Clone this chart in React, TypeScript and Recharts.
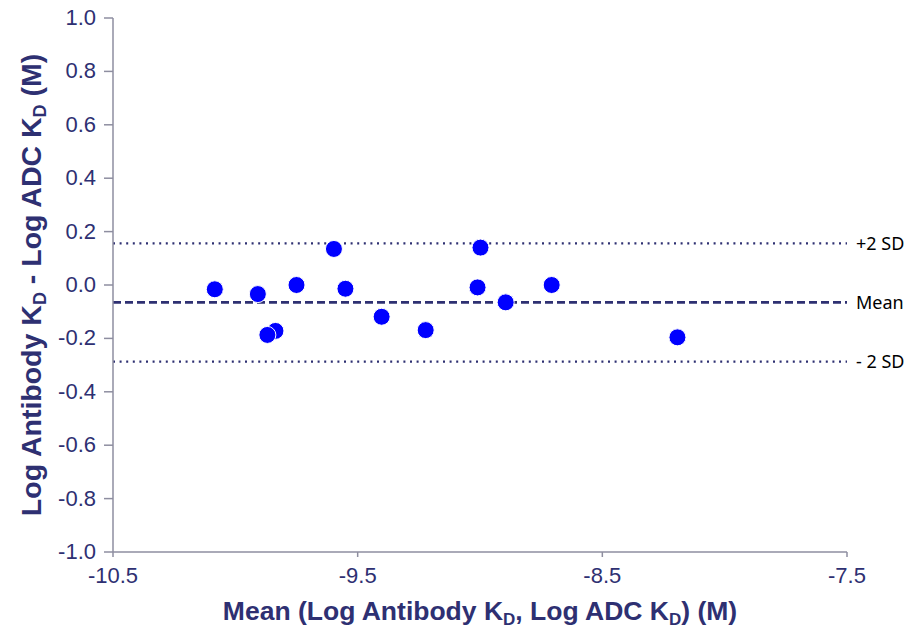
import { ScatterChart, Scatter, XAxis, YAxis, ReferenceLine, Label } from "recharts";

// Bland-Altman: mean of log KD vs difference of log KD
const meanLogKd = [
  -10.084, -9.908, -9.836, -9.869, -9.75, -9.597, -9.55, -9.402, -9.222, -9.01, -8.998, -8.895, -8.707, -8.193,
];
const diffLogKd = [
  -0.016, -0.034, -0.172, -0.187, 0.0, 0.135, -0.014, -0.119, -0.169, -0.009, 0.14, -0.065, 0.0, -0.196,
];
const xTicks = [-10.5, -9.5, -8.5, -7.5];
const yTicks = [-1.0, -0.8, -0.6, -0.4, -0.2, 0.0, 0.2, 0.4, 0.6, 0.8, 1.0];
const meanDiff = -0.065;
const upperSd = 0.156;
const lowerSd = -0.287;

const points = meanLogKd.map((x, i) => ({ x, y: diffLogKd[i] }));

const navy = "#2e3072";
const axisGrey = "#8e8ea0";
const tickFamily = "Liberation Sans, Arial, sans-serif";
const titleFont = "Liberation Sans, Arial, sans-serif";

const XTick = (p: any) => (
  <text x={p.x} y={p.y + 22} textAnchor="middle" fontFamily={tickFamily} fontSize={22} fill={navy}>
    {Number(p.payload.value).toFixed(1)}
  </text>
);

const YTick = (p: any) => (
  <text x={p.x + 1} y={p.y + 7} textAnchor="end" fontFamily={tickFamily} fontSize={22} fill={navy}>
    {Number(p.payload.value).toFixed(1)}
  </text>
);

const YTitle = () => (
  <text
    x={0}
    y={0}
    transform="translate(41, 285) rotate(-90)"
    textAnchor="middle"
    fontFamily={titleFont}
    fontWeight="bold"
    fontSize={28.5}
    fill={navy}
  >
    Log Antibody K<tspan fontSize={18} dy={5}>D</tspan>
    <tspan dy={-5}> - Log ADC K</tspan>
    <tspan fontSize={18} dy={5}>D</tspan>
    <tspan dy={-5}> (M)</tspan>
  </text>
);

const XTitle = () => (
  <text
    x={480}
    y={620}
    textAnchor="middle"
    fontFamily={titleFont}
    fontWeight="bold"
    fontSize={26.5}
    fill={navy}
  >
    Mean (Log Antibody K<tspan fontSize={17} dy={5}>D</tspan>
    <tspan dy={-5}>, Log ADC K</tspan>
    <tspan fontSize={17} dy={5}>D</tspan>
    <tspan dy={-5}>) (M)</tspan>
  </text>
);

const sdLabel = (text: string) => (
  <Label
    value={text}
    position="right"
    offset={9}
    fontSize={18}
    fontFamily="Noto Sans, Open Sans, sans-serif"
    fill="#000"
  />
);

export default function App() {
  return (
    <div style={{ position: "absolute", left: 0, top: 0, background: "#fff" }}>
      <ScatterChart width={915} height={635} margin={{ top: 18, right: 68, bottom: 0, left: 0 }}>
        <XAxis
          type="number"
          dataKey="x"
          domain={[-10.5, -7.5]}
          ticks={xTicks}
          height={83}
          stroke={axisGrey}
          strokeWidth={1.5}
          tickSize={5}
          tickMargin={4}
          tick={<XTick />}
        />
        <YAxis
          type="number"
          dataKey="y"
          domain={[-1, 1]}
          ticks={yTicks}
          width={113}
          stroke={axisGrey}
          strokeWidth={1.5}
          tickSize={9}
          tickMargin={9}
          tick={<YTick />}
        />
        <ReferenceLine y={upperSd} stroke={navy} strokeWidth={2.2} strokeDasharray="2 4.6">
          {sdLabel("+2 SD")}
        </ReferenceLine>
        <ReferenceLine y={meanDiff} stroke={navy} strokeWidth={2.6} strokeDasharray="8 4">
          {sdLabel("Mean")}
        </ReferenceLine>
        <ReferenceLine y={lowerSd} stroke={navy} strokeWidth={2.2} strokeDasharray="2 4.6">
          {sdLabel("- 2 SD")}
        </ReferenceLine>
        <Scatter
          data={points}
          fill="#0000ff"
          isAnimationActive={false}
          shape={(p: any) => <circle cx={p.cx} cy={p.cy} r={8.5} fill="#0000ff" stroke="#fff" strokeWidth={1} />}
        />
        <YTitle />
        <XTitle />
      </ScatterChart>
    </div>
  );
}
